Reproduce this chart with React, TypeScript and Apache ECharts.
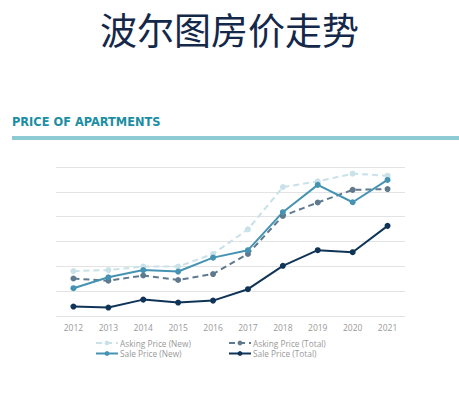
import React, { useEffect, useRef } from "react";
import * as echarts from "echarts";

const years = ["2012", "2013", "2014", "2015", "2016", "2017", "2018", "2019", "2020", "2021"];
const askingNew = [1.81, 1.85, 1.99, 1.99, 2.5, 3.49, 5.19, 5.42, 5.73, 5.65];
const askingTotal = [1.51, 1.42, 1.63, 1.45, 1.69, 2.5, 4.03, 4.57, 5.08, 5.11];
const saleNew = [1.12, 1.56, 1.85, 1.79, 2.35, 2.65, 4.18, 5.28, 4.58, 5.48];
const saleTotal = [0.38, 0.34, 0.66, 0.54, 0.62, 1.08, 2.02, 2.65, 2.57, 3.63];

export default function App() {
  const ref = useRef<HTMLDivElement>(null);
  useEffect(() => {
    const chart = echarts.init(ref.current!, null, { renderer: "svg" });
    const mk = (name: string, data: number[], color: string, dashed: boolean) => ({
      name,
      type: "line",
      data,
      symbol: "circle",
      symbolSize: 6,
      lineStyle: { color, width: 2, type: dashed ? [6, 4] : "solid" },
      itemStyle: { color },
    });
    const legendText = {
      color: "#999",
      fontSize: 8.3,
      lineHeight: 10,
      fontFamily: "Open Sans",
      padding: [0, 0, 0, -3],
    };
    chart.setOption({
      animation: false,
      backgroundColor: "#ffffff",
      graphic: [
        {
          type: "text",
          left: "center",
          top: 10,
          style: {
            text: "波尔图房价走势",
            font: '37px "Noto Sans CJK SC"',
            fill: "#14284a",
          },
        },
        {
          type: "text",
          left: 12,
          top: 116,
          style: {
            text: "PRICE OF APARTMENTS",
            font: 'bold 11.4px "DejaVu Sans"',
            fill: "#1b8ea3",
          },
        },
        {
          type: "rect",
          shape: { x: 12, y: 136, width: 447, height: 4 },
          style: { fill: "#8ccbd4" },
        },
      ],
      grid: { left: 56, right: 54, top: 167, bottom: 79 },
      xAxis: {
        type: "category",
        data: years,
        boundaryGap: true,
        axisLine: { show: false },
        axisTick: { show: false },
        axisLabel: { color: "#999", fontSize: 8.5, margin: 7, fontFamily: "Open Sans" },
      },
      yAxis: {
        type: "value",
        min: 0,
        max: 6,
        interval: 1,
        axisLabel: { show: false },
        axisLine: { show: false },
        axisTick: { show: false },
        splitLine: { lineStyle: { color: "#e3e3e3", width: 1.2 } },
      },
      legend: [
        {
          left: 95,
          top: 338,
          orient: "vertical",
          itemGap: 0.5,
          itemWidth: 22,
          itemHeight: 6,
          padding: 0,
          data: ["Asking Price (New)", "Sale Price (New)"],
          textStyle: legendText,
        },
        {
          left: 228,
          top: 338,
          orient: "vertical",
          itemGap: 0.5,
          itemWidth: 22,
          itemHeight: 6,
          padding: 0,
          data: ["Asking Price (Total)", "Sale Price (Total)"],
          textStyle: legendText,
        },
      ],
      series: [
        mk("Asking Price (New)", askingNew, "#c9e1e8", true),
        mk("Asking Price (Total)", askingTotal, "#5f7a8e", true),
        mk("Sale Price (New)", saleNew, "#4593b2", false),
        mk("Sale Price (Total)", saleTotal, "#0f3457", false),
      ],
    });
    return () => chart.dispose();
  }, []);
  return (
    <div
      ref={ref}
      style={{ position: "fixed", left: 0, top: 0, width: 459, height: 395, background: "#fff" }}
    />
  );
}
